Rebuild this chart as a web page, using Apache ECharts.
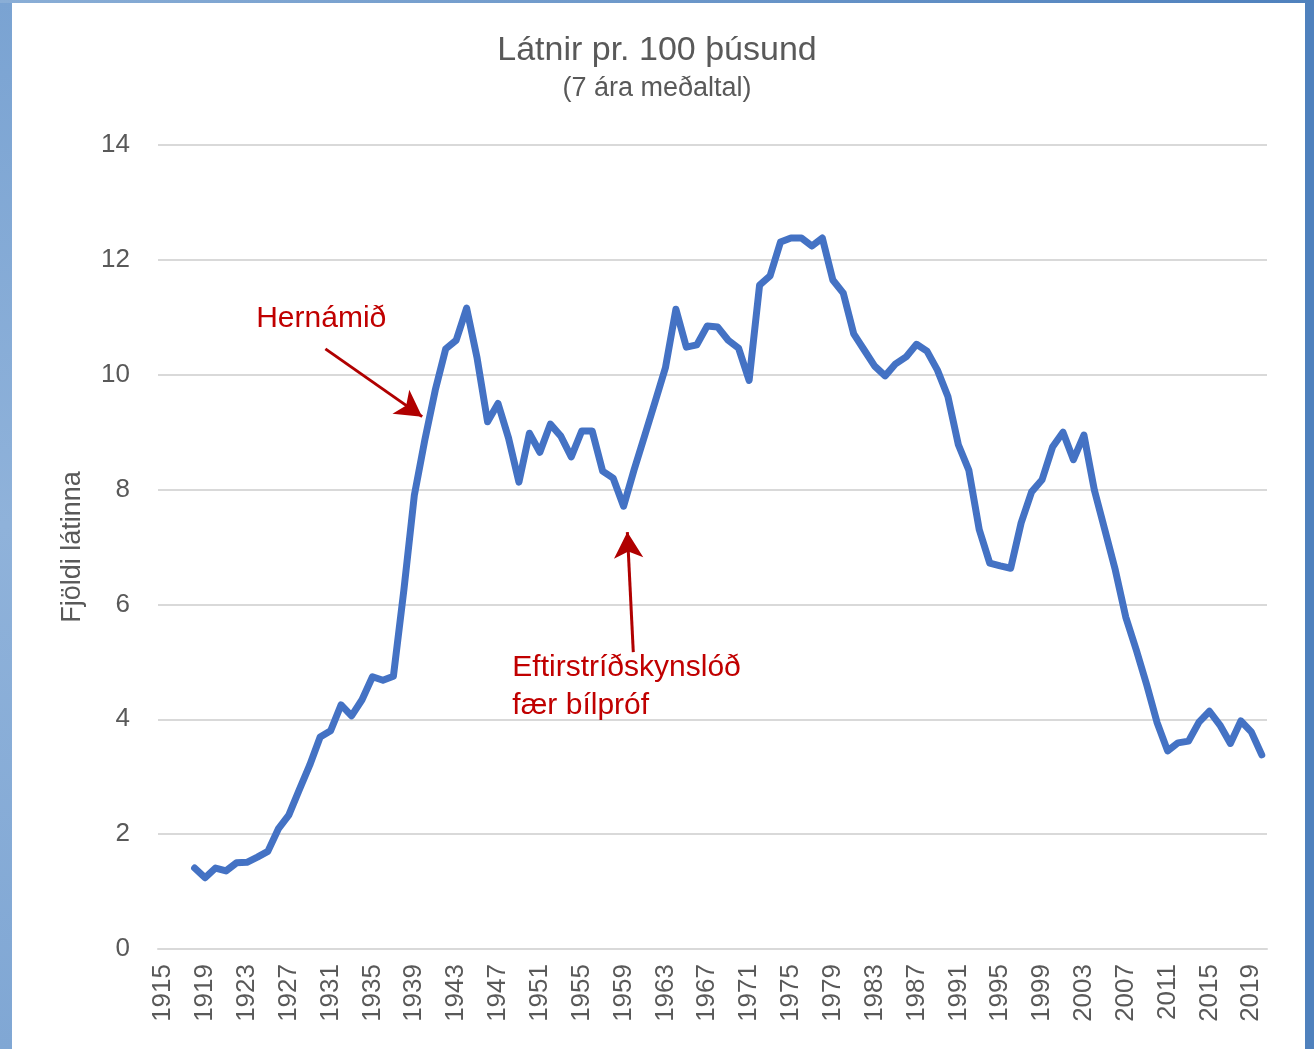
<!DOCTYPE html>
<html>
<head>
<meta charset="utf-8">
<script src="https://cdn.jsdelivr.net/npm/echarts@6/dist/echarts.min.js"></script>
<style>
  html, body { margin: 0; padding: 0; background: #fff; }
  #chart { width: 1314px; height: 1049px; }
</style>
</head>
<body>
<div id="chart"></div>
<script>
// Látnir pr. 100 þúsund, 7 ára meðaltal
var years = [];
for (var y = 1918; y <= 2020; y++) years.push(y);

var values = [
  1.41, 1.24, 1.41, 1.36, 1.50, 1.51, 1.60, 1.70, 2.09, 2.33,   // 1918-1927
  2.77, 3.20, 3.69, 3.80, 4.25, 4.06, 4.34, 4.74, 4.68, 4.75,   // 1928-1937
  6.25, 7.90, 8.86, 9.73, 10.45, 10.60, 11.16, 10.29, 9.18, 9.50, // 1938-1947
  8.90, 8.13, 8.98, 8.65, 9.14, 8.93, 8.57, 9.02, 9.02, 8.32,   // 1948-1957
  8.20, 7.71, 8.34, 8.93, 9.52, 10.12, 11.14, 10.48, 10.52, 10.85, // 1958-1967
  10.83, 10.60, 10.46, 9.90, 11.56, 11.72, 12.31, 12.38, 12.38, 12.24, // 1968-1977
  12.38, 11.65, 11.42, 10.71, 10.43, 10.15, 9.98, 10.19, 10.31, 10.53, // 1978-1987
  10.41, 10.08, 9.62, 8.78, 8.34, 7.30, 6.72, 6.67, 6.63, 7.42, // 1988-1997
  7.96, 8.17, 8.74, 9.00, 8.52, 8.95, 7.99, 7.30, 6.60, 5.78,   // 1998-2007
  5.21, 4.60, 3.94, 3.45, 3.59, 3.62, 3.95, 4.14, 3.90, 3.58,   // 2008-2017
  3.97, 3.78, 3.38                                              // 2018-2020
];

var yearLabels = [];
for (var t = 1915; t <= 2019; t += 4) yearLabels.push(t);

// annotations: [year, value] anchors
var note1Text = 'Hernámið';
var note1Pos = [1930.1, 10.97];
var arrow1 = [[1930.5, 10.45], [1939.75, 9.27]];

var note2Text = 'Eftirstríðskynslóð\nfær bílpróf';
var note2Pos = [1948.37, 4.56];
var arrow2 = [[1959.93, 5.17], [1959.36, 7.26]];

var seriesData = [];
for (var i = 0; i < years.length; i++) seriesData.push([years[i], values[i]]);

var font = 'Liberation Sans, Arial, sans-serif';
var grey = '#595959';
var red = '#c00000';

var chart = echarts.init(document.getElementById('chart'));
chart.setOption({
  animation: false,
  backgroundColor: '#fff',
  title: [
    { text: 'Látnir pr. 100 þúsund', left: 'center', top: 29,
      textStyle: { fontSize: 34, fontWeight: 'normal', color: grey, fontFamily: font } },
    { text: '(7 ára meðaltal)', left: 'center', top: 70,
      textStyle: { fontSize: 27, fontWeight: 'normal', color: grey, fontFamily: font } }
  ],
  grid: { left: 158, right: 47, top: 145, bottom: 100 },
  xAxis: {
    type: 'value',
    min: 1914.5,
    max: 2020.5,
    splitLine: { show: false },
    axisTick: { show: false },
    axisLine: { show: true, lineStyle: { color: '#d9d9d9', width: 2 } },
    axisLabel: {
      customValues: yearLabels,
      formatter: function (v) { return String(v); },
      rotate: 90,
      margin: 15,
      fontSize: 26,
      color: grey,
      fontFamily: font
    }
  },
  yAxis: {
    type: 'value',
    min: 0,
    max: 14,
    interval: 2,
    name: 'Fjöldi látinna',
    nameLocation: 'middle',
    nameGap: 72,
    nameTextStyle: { fontSize: 27, color: grey, fontFamily: font },
    axisLine: { show: false },
    axisTick: { show: false },
    splitLine: { lineStyle: { color: '#d9d9d9', width: 2 } },
    axisLabel: { margin: 28, fontSize: 26, color: grey, fontFamily: font }
  },
  series: [{
    type: 'line',
    data: seriesData,
    symbol: 'none',
    lineStyle: { color: '#4472c4', width: 7, join: 'round', cap: 'round' },
    markLine: {
      silent: true,
      symbol: ['none', 'arrow'],
      symbolSize: [22, 26],
      label: { show: false },
      lineStyle: { color: '#b00000', width: 3, type: 'solid' },
      data: [
        [{ coord: arrow1[0] }, { coord: arrow1[1] }],
        [{ coord: arrow2[0] }, { coord: arrow2[1] }]
      ]
    },
    markPoint: {
      silent: true,
      symbol: 'circle',
      symbolSize: 0,
      data: [
        { coord: note1Pos, label: { show: true, formatter: note1Text, position: 'inside',
            fontSize: 30, color: red, fontFamily: font } },
        { coord: note2Pos, label: { show: true, formatter: note2Text, position: 'inside', align: 'left',
            lineHeight: 38, fontSize: 30, color: red, fontFamily: font } }
      ]
    }
  }],
  graphic: [
    { type: 'rect', shape: { x: 0, y: 0, width: 12, height: 1049 },
      style: { fill: new echarts.graphic.LinearGradient(0, 0, 0, 1, [
        { offset: 0, color: '#7aa3d2' }, { offset: 0.5, color: '#8fb2da' }, { offset: 1, color: '#80a7d4' }]) } },
    { type: 'rect', shape: { x: 1305, y: 0, width: 9, height: 1049 },
      style: { fill: '#4f81bd' } },
    { type: 'rect', shape: { x: 0, y: 0, width: 1314, height: 3 },
      style: { fill: new echarts.graphic.LinearGradient(0, 0, 1, 0, [
        { offset: 0, color: '#8aaed6' }, { offset: 1, color: '#4f81bd' }]) } }
  ]
});
</script>
</body>
</html>
